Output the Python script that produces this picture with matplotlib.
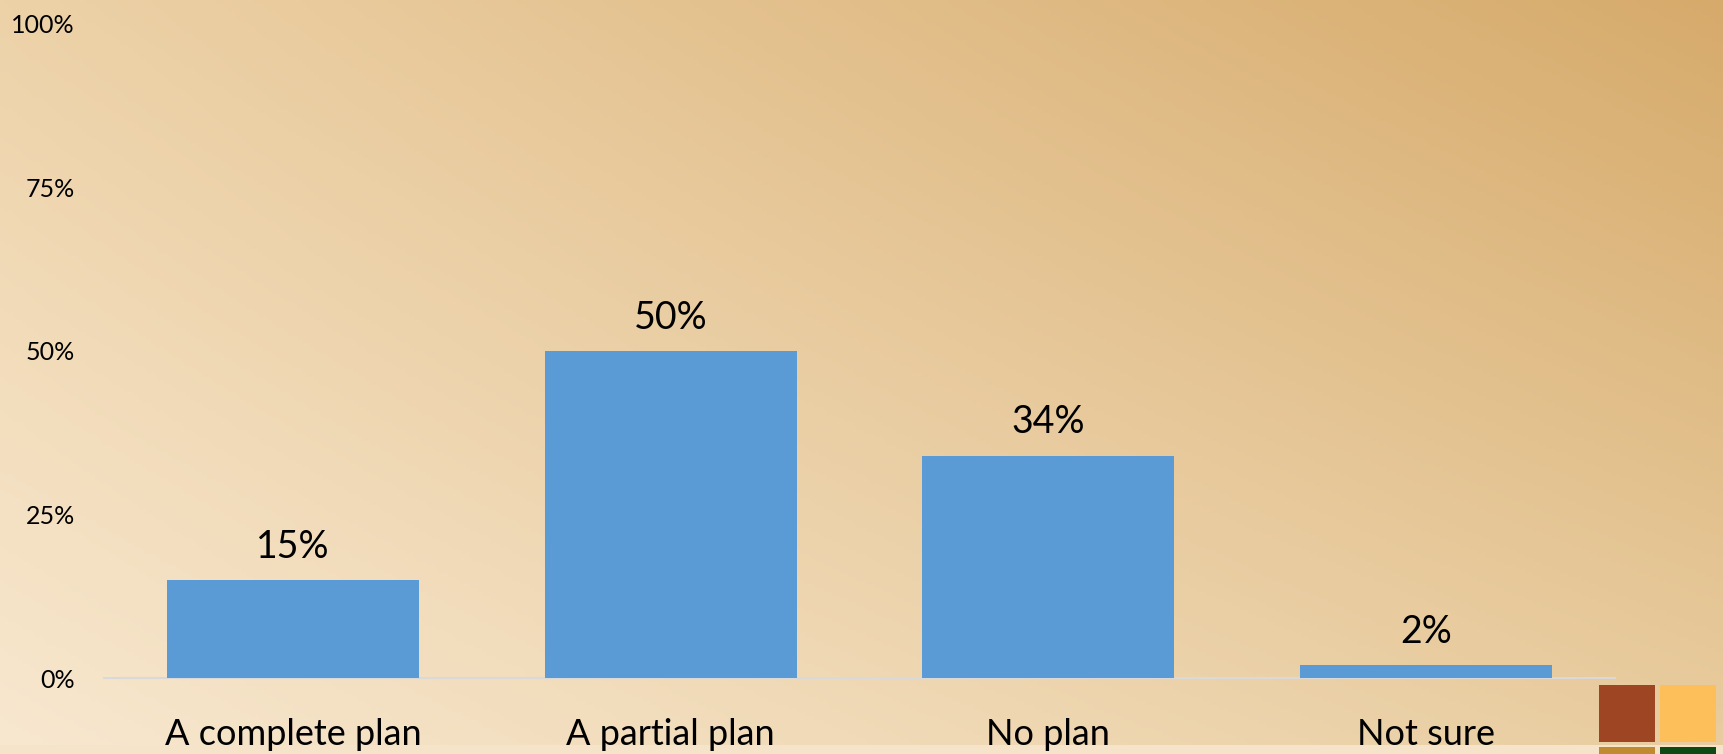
import numpy as np
import matplotlib
matplotlib.use("Agg")
import matplotlib.pyplot as plt
from matplotlib.patches import Rectangle

categories = ["A complete plan", "A partial plan", "No plan", "Not sure"]
shares = [15, 50, 34, 2]
y_ticks = [0, 25, 50, 75, 100]

BAR_COLOR = "#5b9bd5"
plt.rcParams["font.family"] = ["Lato", "DejaVu Sans"]

fig = plt.figure(figsize=(17.23, 7.54), dpi=100)

# Warm diagonal background wash, light at bottom-left, tan at top-right.
bg = fig.add_axes([0, 0, 1, 1], zorder=-10)
tl = np.array([237, 210, 168]) / 255
tr = np.array([214, 170, 107]) / 255
bl = np.array([248, 232, 208]) / 255
br = np.array([233, 205, 160]) / 255
u = np.linspace(0, 1, 400)[None, :, None]
v = np.linspace(0, 1, 200)[:, None, None]
img = (1 - v) * ((1 - u) * tl + u * tr) + v * ((1 - u) * bl + u * br)
bg.imshow(img, aspect="auto", extent=[0, 1, 0, 1], origin="upper")
bg.add_patch(Rectangle((0, 0), 1, 9 / 754, color="#f5e4c9", lw=0))
# corner tiles
for x0, y0, c in [(1599, 685, "#9e4523"), (1660, 685, "#fdbf5a"),
                  (1599, 747, "#c08a30"), (1660, 747, "#0d4a14")]:
    bg.add_patch(Rectangle((x0 / 1723, 1 - (y0 + 57) / 754), 56 / 1723, 57 / 754,
                           color=c, lw=0))
bg.set_xlim(0, 1)
bg.set_ylim(0, 1)
bg.axis("off")

ax = fig.add_axes([104 / 1723, 76 / 754, 1511 / 1723, 654 / 754])
ax.patch.set_alpha(0)
x = np.arange(len(categories))
bars = ax.bar(x, shares, width=0.667, color=BAR_COLOR, zorder=3)
for bar, val in zip(bars, shares):
    ax.annotate(f"{val}%", (bar.get_x() + bar.get_width() / 2, val),
                xytext=(0, 16), textcoords="offset points",
                ha="center", va="baseline", fontsize=27)

ax.set_xlim(-0.5, len(categories) - 0.5)
ax.set_ylim(0, 100)
ax.set_yticks(y_ticks)
ax.set_yticklabels([f"{t}%" for t in y_ticks], fontsize=18)
ax.set_xticks(x)
ax.set_xticklabels(categories, fontsize=26)
ax.tick_params(axis="both", length=0)
ax.tick_params(axis="y", pad=21)
ax.tick_params(axis="x", pad=29)
for side in ["top", "right", "left"]:
    ax.spines[side].set_visible(False)
ax.spines["bottom"].set_color("#d9d9d9")
ax.spines["bottom"].set_linewidth(1.5)

fig.savefig("out.png", dpi=100)
